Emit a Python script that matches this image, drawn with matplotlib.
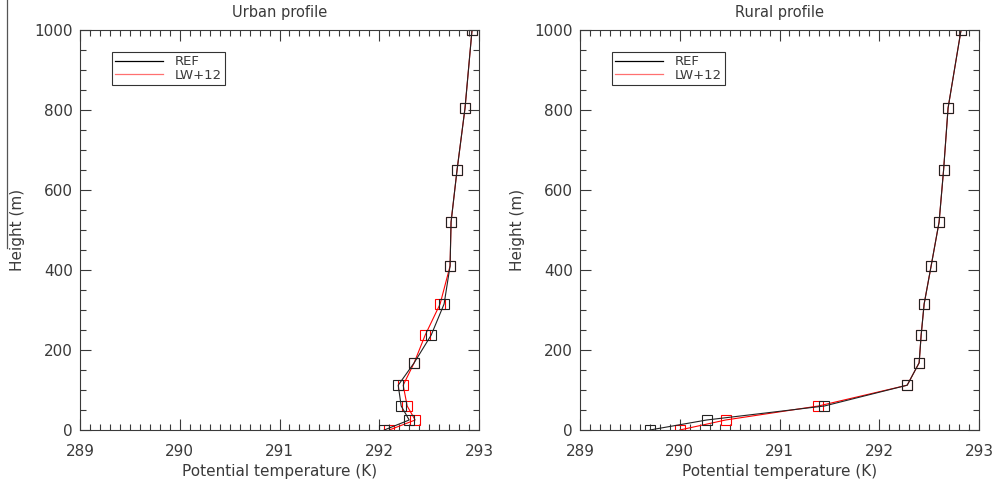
import numpy as np
import matplotlib.pyplot as plt
from matplotlib.ticker import MultipleLocator
from matplotlib.lines import Line2D

# model levels (m)
heights = [0, 25, 60, 112, 168, 237, 315, 410, 520, 650, 805, 1000]

# urban profile
urban_ref = [292.05, 292.30, 292.22, 292.19, 292.35, 292.52, 292.65, 292.71, 292.72, 292.78, 292.86, 292.93]
urban_lw = [292.10, 292.36, 292.28, 292.24, 292.35, 292.46, 292.61, 292.71, 292.72, 292.78, 292.86, 292.93]

# rural profile
rural_ref = [289.70, 290.27, 291.45, 292.28, 292.40, 292.42, 292.45, 292.52, 292.60, 292.645, 292.69, 292.82]
rural_lw = [290.00, 290.46, 291.39, 292.28, 292.40, 292.42, 292.45, 292.52, 292.60, 292.645, 292.69, 292.82]

titles = ['Urban profile', 'Rural profile']
xticks = [289, 290, 291, 292, 293]

txt = '#3a3a3a'
fig = plt.figure(figsize=(9.98, 4.88), dpi=100)
fig.patch.set_facecolor('white')

panels = [(urban_ref, urban_lw), (rural_ref, rural_lw)]
lefts = [80 / 998, 580 / 998]

for i, (ref, lw) in enumerate(panels):
    ax = fig.add_axes([lefts[i], 58 / 488, 399 / 998, 400 / 488])
    ax.plot(lw, heights, color='red', lw=0.8, marker='s', ms=6.5,
            mfc='none', mec='red', mew=0.8)
    ax.plot(ref, heights, color='#222222', lw=0.8, marker='s', ms=6.5,
            mfc='none', mec='#222222', mew=0.8)
    ax.set_xlim(289, 293)
    ax.set_ylim(0, 1000)
    ax.set_xticks(xticks)
    ax.xaxis.set_minor_locator(MultipleLocator(0.1))
    ax.yaxis.set_major_locator(MultipleLocator(200))
    ax.yaxis.set_minor_locator(MultipleLocator(50))
    ax.tick_params(which='both', direction='in', top=True, right=True,
                   colors=txt, labelsize=11, width=0.8)
    ax.tick_params(axis='x', which='major', length=8, pad=10)
    ax.tick_params(axis='y', which='major', length=8, pad=5)
    ax.tick_params(which='minor', length=4)
    for s in ax.spines.values():
        s.set_color(txt)
        s.set_linewidth(0.8)
    ax.set_title(titles[i], fontsize=10.5, color=txt, pad=9)
    ax.set_xlabel('Potential temperature (K)', fontsize=11, color=txt, labelpad=4)
    ax.set_ylabel('Height (m)', fontsize=11, color=txt, labelpad=7)

    handles = [Line2D([], [], color='black', lw=0.9),
               Line2D([], [], color='#ff7070', lw=0.9)]
    leg = ax.legend(handles, ['REF', 'LW+12'], loc='upper left',
                    bbox_to_anchor=(0.08, 0.945), fontsize=9.5, frameon=True,
                    fancybox=False, borderpad=0.25, handlelength=3.6,
                    handletextpad=0.9, labelspacing=0.05, borderaxespad=0)
    leg.get_frame().set_edgecolor('black')
    leg.get_frame().set_linewidth(0.8)
    for t in leg.get_texts():
        t.set_color(txt)

# stray line on the left edge of the original image
fig.add_artist(Line2D([7 / 998, 7 / 998], [1, 1 - 248 / 488], color='#555555', lw=0.9))

plt.savefig('out.png', dpi=100)
